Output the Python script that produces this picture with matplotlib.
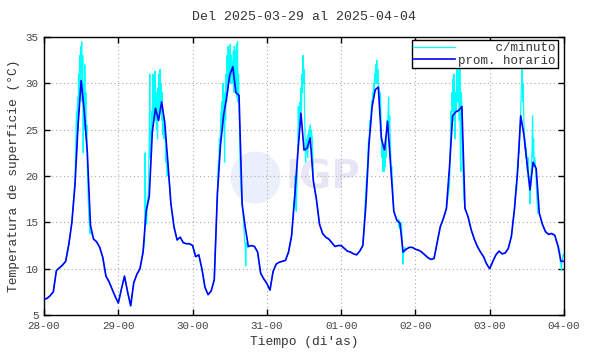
import numpy as np
import matplotlib
matplotlib.use('Agg')
import matplotlib.pyplot as plt
from matplotlib.patches import Ellipse

plt.rcParams['font.family'] = ['Liberation Mono', 'DejaVu Sans Mono']

# promedio horario (una lista por dia, 24 valores, hora 0..23) + ultimo punto
dia_28 = [6.7, 6.8, 7.1, 7.5, 9.8, 10.1, 10.4, 10.8, 12.6, 15.0, 19.0, 25.5,
          30.3, 27.0, 22.5, 14.7, 13.2, 12.9, 12.3, 11.2, 9.2, 8.6, 7.8, 7.0]
dia_29 = [6.3, 7.8, 9.2, 7.5, 6.0, 8.5, 9.4, 10.0, 11.8, 16.2, 17.8, 24.8,
          27.3, 26.0, 28.0, 25.8, 21.5, 17.0, 14.5, 13.1, 13.4, 12.8, 12.7, 12.7]
dia_30 = [12.5, 11.3, 11.5, 10.0, 8.0, 7.2, 7.6, 8.8, 18.0, 23.3, 26.5, 28.5,
          30.9, 31.8, 29.0, 28.7, 17.0, 14.5, 12.4, 12.5, 12.4, 11.8, 9.5, 8.9]
dia_31 = [8.4, 7.7, 9.7, 10.5, 10.7, 10.8, 10.9, 11.8, 13.6, 17.8, 22.5, 26.8,
          22.8, 23.0, 24.1, 19.5, 17.5, 14.8, 13.8, 13.4, 13.2, 12.8, 12.4, 12.5]
dia_01 = [12.5, 12.2, 11.9, 11.8, 11.6, 11.5, 11.9, 12.5, 17.0, 23.5, 27.5, 29.3,
          29.6, 24.0, 22.8, 25.9, 21.0, 16.2, 15.2, 14.9, 11.8, 12.1, 12.3, 12.3]
dia_02 = [12.1, 12.0, 11.8, 11.5, 11.2, 11.0, 11.1, 12.8, 14.5, 15.4, 16.5, 21.0,
          26.5, 26.9, 27.1, 27.5, 16.5, 15.6, 14.2, 13.2, 12.4, 11.8, 11.3, 10.5]
dia_03 = [10.0, 10.8, 11.5, 11.9, 11.6, 11.7, 12.2, 13.5, 16.5, 20.5, 26.5, 24.5,
          21.5, 18.5, 21.5, 20.8, 16.0, 14.8, 14.0, 13.7, 13.8, 13.6, 12.5, 10.8]
ultimo = 10.8

# datos c/minuto en los tramos con picos: (dia, hora inicial, valores cada 10 min)
tramos = [
    (0, 10.0, [19.5, 22, 24, 27, 23, 28.5, 25, 31, 27, 33, 29, 34, 31, 34.5, 28, 33,
               22.5, 30, 25, 32, 26, 29, 24, 25.5, 21, 19, 17, 15.5, 14.8, 13.8, 14.2]),
    (1, 8.5, [13, 22.5, 16, 15, 14.8, 17, 17.5, 18, 21, 24, 31, 22, 25, 23, 27, 25,
              31, 26, 30, 27, 31.3, 26, 29, 25, 28, 24, 29.5, 26, 31, 27, 31.5, 28,
              30, 26, 29, 24.5, 27, 24, 25.5, 24.5, 24.5, 21.5, 23.5, 21, 20]),
    (2, 8.0, [18, 20, 21.5, 22, 24, 23, 25, 27, 24, 28, 25, 30, 27, 26.5, 21.5, 29,
              26, 31, 28, 33, 29, 34, 30, 33.5, 31, 34.2, 30, 33, 31, 32.5, 30, 33.5,
              29, 34, 29.5, 33.5, 29, 34.2, 28.5, 34.5, 28, 31, 28.5, 25, 22, 20, 18.5]),
    (2, 16.5, [15, 14, 13, 12.5, 10.3, 12.8, 12.5, 12.6, 12.3]),
    (3, 8.5, [16, 17, 17.5, 18, 20, 17, 16.2, 19, 21, 23.5, 27.5, 24, 25.5, 28, 27,
              29.5, 27, 31, 29, 33, 30, 31.5, 27, 24, 21.5, 23.5, 22.5, 24, 22, 24.5,
              23, 25, 23.5, 25.5, 24, 25, 24.5, 24, 22]),
    (4, 7.5, [15, 16.5, 17.5, 18.5, 19.5, 20.5, 21, 22.5, 24, 23.5, 25, 26, 25.5, 27,
              28, 27.5, 29, 28.5, 30, 29, 31, 30.5, 32, 30, 32.5, 30, 31.5, 30, 29.5,
              29, 28, 29, 27, 24.5, 22, 24, 20.5, 23, 20.5, 22.5, 21, 23, 22, 24, 26,
              25, 27, 28.5, 25, 26.5, 24, 22.5, 20.5, 21]),
    (4, 18.5, [15.3, 14.5, 15.2, 14.3, 15, 14.9, 14.8, 13, 11.5, 10.5, 12, 11.8, 12.3]),
    (5, 11.0, [19, 21.5, 24, 27, 25, 29, 27, 30.5, 26, 31, 27, 24, 29, 27, 31.5, 28,
               32.5, 28, 31, 26, 32, 22, 20.5, 29, 27, 24, 21, 19, 17.5]),
    (6, 8.5, [19, 18.5, 20, 21.5, 21, 23, 22.5, 24, 25.5, 27, 29, 30.5, 31.5, 28, 30,
              26, 25, 23, 24, 22, 23, 21, 20.5, 22, 19.5, 20, 18.5, 17, 18.5, 20.5,
              21, 23, 26.5, 22, 24, 21, 22, 21.5, 20.5, 19.5, 18, 17, 16]),
    (6, 22.5, [12.2, 11.5, 10.6, 10.5, 9.8, 10.9, 11.0, 11.5, 11.4, 11.5]),
]

etiquetas_x = ['28-00', '29-00', '30-00', '31-00', '01-00', '02-00', '03-00', '04-00']

# serie horaria
horario = np.array(dia_28 + dia_29 + dia_30 + dia_31 + dia_01 + dia_02 + dia_03 + [ultimo])
t_h = np.arange(len(horario), dtype=float)

# serie c/minuto: tramos + horario fuera de los tramos
t_m, v_m = [], []
rangos = []
for dia, h0, vals in tramos:
    tt = dia * 24 + h0 + np.arange(len(vals)) / 6.0
    rangos.append((tt[0], tt[-1]))
    t_m.extend(tt)
    v_m.extend(vals)
for t, v in zip(t_h, horario):
    if not any(a <= t <= b for a, b in rangos):
        t_m.append(t)
        v_m.append(v)
orden = np.argsort(t_m)
t_m = np.array(t_m)[orden]
v_m = np.array(v_m)[orden]

fig = plt.figure(figsize=(5.9, 3.54), dpi=100)
ax = fig.add_axes([0.0746, 0.110, 0.8814, 0.7855])

# marca de agua
ax.add_patch(Ellipse((0.4067, 0.4946), 0.096, 0.187, transform=ax.transAxes,
                     facecolor='#ebeffb', edgecolor='none', zorder=0))
ax.text(0.5365, 0.4946, 'IGP', transform=ax.transAxes, ha='center', va='center',
        fontsize=28, fontweight='bold', color='#e6e6f7', family='DejaVu Sans', zorder=0)

ax.plot(t_m, v_m, color='#00ffff', lw=0.9, label='     c/minuto', zorder=2)
ax.plot(t_h, horario, color='#0000ff', lw=1.2, label='prom. horario', zorder=3)

ax.set_xlim(0, 168)
ax.set_ylim(5, 35)
ax.set_xticks(np.arange(0, 169, 24))
ax.set_xticklabels(etiquetas_x)
ax.set_yticks(np.arange(5, 36, 5))
ax.tick_params(direction='in', length=4, width=1, top=True, right=True,
               labelsize=7.8, labelcolor='#444444', pad=4)
ax.grid(True, color='#aaaaaa', linestyle=(0, (1, 2.5)), lw=0.8)
for s in ax.spines.values():
    s.set_linewidth(1.0)

ax.set_xlabel("Tiempo (di'as)", fontsize=9.3, color='#333333', labelpad=4)
ax.set_ylabel('Temperatura de superficie (°C)', fontsize=9.3, color='#333333', labelpad=4)
ax.set_title('Del 2025-03-29 al 2025-04-04', fontsize=9.5, color='#333333', pad=12)

leg = ax.legend(loc='upper right', bbox_to_anchor=(0.988, 0.989), borderaxespad=0,
                fontsize=9, handlelength=3.3, handletextpad=0.3, labelspacing=0.05,
                borderpad=0.15, fancybox=False, framealpha=1, edgecolor='black')
leg.get_frame().set_linewidth(1.0)
for txt in leg.get_texts():
    txt.set_color('#333333')

fig.savefig('out.png', dpi=100)
